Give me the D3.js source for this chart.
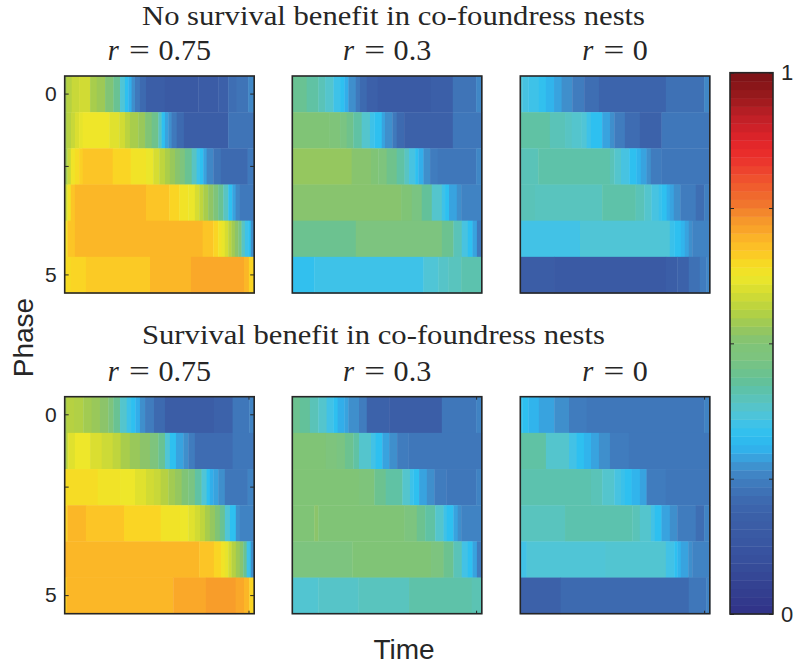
<!DOCTYPE html>
<html>
<head>
<meta charset="utf-8">
<script src="https://cdn.jsdelivr.net/npm/d3@7"></script>
<style>
  body { margin: 0; background: #fff; }
  svg { display: block; }
</style>
</head>
<body>
<svg id="chart" width="795" height="668"></svg>
<script>
// ---- categories and labels ----
const phases = [0, 1, 2, 3, 4, 5];
const phaseTickValues = [0, 2, 5];
const phaseTickLabels = { 0: "0", 5: "5" };
const relatedness = ["0.75", "0.3", "0"];
const groupTitles = ["No survival benefit in co-foundress nests", "Survival benefit in co-foundress nests"];
const colorbarTicks = [0, 0.25, 0.5, 0.75, 1];
const colorbarLabels = { 0: "0", 1: "1" };
const timeDomain = [0, 100];
const timeTickValues = [97];

// ---- values: one list per phase row, each entry = [time where a run starts, fraction] ----
const noBenefitR075 = [
  [[0,0.535],[1,0.56],[3.7,0.58],[7.6,0.59],[13.4,0.547],[16.9,0.535],[21.3,0.50],[25.7,0.44],[29.2,0.37],[31.8,0.33],[33.6,0.30],[35.3,0.27],[37.1,0.24],[39.7,0.21],[42.9,0.17],[52.9,0.15],[70.5,0.16],[81,0.18],[86.3,0.22],[90.7,0.23],[96.8,0.26]],
  [[0,0.535],[1,0.56],[3.3,0.58],[5.4,0.60],[7.6,0.615],[9.5,0.625],[23.6,0.608],[28.8,0.59],[31.8,0.565],[34.4,0.547],[38.8,0.53],[42.4,0.50],[45.9,0.45],[49.4,0.39],[51.1,0.33],[52.9,0.29],[54.7,0.27],[56.4,0.24],[59.1,0.21],[62.9,0.17],[86.3,0.23]],
  [[0,0.535],[1.4,0.58],[3.2,0.63],[5.4,0.645],[7.6,0.66],[9.5,0.67],[25.3,0.655],[34.8,0.632],[42.9,0.62],[46.7,0.595],[49.9,0.57],[52.9,0.55],[55.5,0.53],[58.2,0.51],[60.8,0.48],[63.4,0.44],[67,0.39],[69.6,0.35],[71.4,0.33],[73.1,0.29],[74.9,0.26],[78.4,0.23],[82.4,0.21],[96.5,0.24]],
  [[0,0.58],[1.4,0.632],[3.2,0.67],[5.4,0.69],[42.9,0.67],[55.2,0.655],[60.5,0.632],[65.2,0.62],[68.7,0.595],[71,0.57],[73.1,0.547],[75.7,0.52],[78.4,0.485],[81,0.44],[83.7,0.39],[86.3,0.33],[88.4,0.29],[90.2,0.26],[92.4,0.24]],
  [[0,0.632],[1.4,0.67],[5.4,0.69],[72.8,0.67],[78.4,0.655],[81,0.632],[82.8,0.618],[84.5,0.595],[86.3,0.565],[88,0.54],[89.8,0.515],[91.6,0.47],[93.3,0.39],[95.1,0.35],[96.8,0.33],[98.2,0.27]],
  [[0,0.64],[1,0.648],[3.3,0.655],[11.2,0.665],[45,0.69],[66.6,0.706],[94.6,0.69],[97.2,0.655]]
];
const noBenefitR03 = [
  [[0,0.44],[7.6,0.42],[13.7,0.40],[17.3,0.38],[21.7,0.35],[25.2,0.33],[27.5,0.30],[29.6,0.27],[33.5,0.24],[35.7,0.21],[39.3,0.18],[45.1,0.155],[73.1,0.175],[84.7,0.23],[97,0.26]],
  [[0,0.50],[19.4,0.49],[25.2,0.47],[28.7,0.45],[32.2,0.42],[36.6,0.38],[41,0.35],[43.3,0.33],[47.2,0.29],[48.9,0.27],[52.8,0.24],[55.1,0.21],[59,0.185],[84.7,0.235]],
  [[0,0.525],[31.3,0.51],[41.5,0.50],[45.4,0.48],[49.8,0.45],[55.1,0.42],[59.2,0.39],[61.6,0.36],[64.8,0.33],[66.5,0.30],[69.2,0.27],[72.7,0.245],[76.8,0.235],[97,0.26]],
  [[0,0.51],[57.4,0.50],[63,0.47],[68.3,0.43],[73.6,0.38],[78.9,0.35],[80.6,0.33],[82.7,0.29],[86.8,0.27],[89.1,0.255]],
  [[0,0.445],[33.5,0.475],[78.9,0.445],[85,0.40],[89.4,0.36],[92.6,0.33],[95.1,0.29],[97.4,0.24]],
  [[0,0.335],[11.6,0.35],[69.2,0.37],[77.1,0.385],[82.4,0.395],[89.1,0.41]]
];
const noBenefitR0 = [
  [[0,0.37],[1.1,0.36],[4.2,0.35],[9.8,0.335],[13.5,0.31],[17.8,0.29],[21.8,0.27],[27.4,0.245],[33.7,0.22],[41.5,0.195],[76.8,0.225],[97,0.26]],
  [[0,0.42],[15.6,0.40],[23.6,0.39],[27.1,0.38],[32.3,0.37],[35,0.35],[37.3,0.33],[43.2,0.29],[47.3,0.27],[49.6,0.245],[55.2,0.215],[63.1,0.19],[74.5,0.235]],
  [[0,0.40],[9.5,0.415],[47.3,0.40],[49.6,0.38],[53.1,0.36],[57.5,0.33],[61.3,0.31],[63.6,0.29],[66.6,0.27],[68.9,0.245],[74.5,0.235]],
  [[0,0.40],[7.7,0.395],[43.2,0.415],[60.8,0.40],[65.4,0.38],[69.2,0.36],[73.1,0.345],[74.5,0.33],[77.2,0.30],[78.9,0.29],[81,0.27],[84.5,0.245],[92.6,0.22],[97,0.25]],
  [[0,0.355],[31.5,0.37],[78.9,0.345],[81.2,0.33],[84.7,0.31],[86.8,0.29],[88.9,0.27],[90.7,0.255]],
  [[0,0.165],[17.8,0.15],[76.8,0.17],[82.8,0.19],[88.9,0.225],[94.7,0.245],[98.2,0.26]]
];
const benefitR075 = [
  [[0,0.535],[1,0.56],[4.9,0.555],[9.8,0.54],[14.2,0.53],[18.6,0.515],[23,0.48],[25.7,0.44],[29.2,0.38],[32.7,0.35],[35,0.33],[37.3,0.30],[39.7,0.27],[42.4,0.245],[47.1,0.21],[52.9,0.165],[78.7,0.19],[88.6,0.235],[97.4,0.255]],
  [[0,0.535],[1,0.58],[1.9,0.608],[5.4,0.623],[13.4,0.60],[19.5,0.585],[25.3,0.57],[29.5,0.547],[34.4,0.53],[39.7,0.515],[45,0.48],[49.4,0.44],[52.9,0.37],[55.5,0.33],[58.7,0.29],[62.6,0.27],[65.2,0.245],[68.7,0.215],[88.6,0.235]],
  [[0,0.645],[17.4,0.632],[29.2,0.623],[37.1,0.608],[42.9,0.59],[47.1,0.58],[50.6,0.56],[54.7,0.54],[58.2,0.525],[61.7,0.50],[65.2,0.47],[68.7,0.42],[72.2,0.37],[74.9,0.33],[76.6,0.30],[78.4,0.29],[81,0.27],[84.5,0.235],[96.5,0.255]],
  [[0,0.655],[1.4,0.69],[11.2,0.67],[31.3,0.655],[50.6,0.632],[60.8,0.623],[65.2,0.608],[68.7,0.59],[71.4,0.57],[74,0.547],[76.6,0.525],[79.3,0.50],[81.9,0.44],[84.5,0.37],[87.2,0.33],[90.3,0.27],[92.4,0.255]],
  [[0,0.69],[71,0.67],[78.7,0.655],[82.4,0.632],[84.5,0.615],[86.3,0.59],[88,0.56],[90.3,0.535],[92.4,0.51],[94.2,0.44],[96,0.35],[97.7,0.33],[98.2,0.27]],
  [[0,0.655],[1,0.69],[57.3,0.706],[74.5,0.72],[90.2,0.706],[94.6,0.69],[97.4,0.655]]
];
const benefitR03 = [
  [[0,0.445],[4,0.43],[9.3,0.40],[13.7,0.38],[18.1,0.355],[21.7,0.33],[23.9,0.30],[27.5,0.29],[29.6,0.27],[35.2,0.245],[39.3,0.19],[51.1,0.17],[78.9,0.235],[97,0.255]],
  [[0,0.50],[17.6,0.48],[23.4,0.47],[27.8,0.445],[32.2,0.42],[35.2,0.38],[41.5,0.355],[44,0.33],[47.5,0.29],[51.1,0.27],[55.3,0.245],[61.3,0.235]],
  [[0,0.50],[35.2,0.485],[43.3,0.445],[49.3,0.42],[58.1,0.38],[62.1,0.35],[63.9,0.33],[66.9,0.29],[71,0.27],[75,0.245],[81.2,0.235],[97,0.255]],
  [[0,0.50],[11.6,0.515],[13.7,0.50],[59.2,0.475],[65.7,0.445],[70.1,0.42],[75.4,0.38],[79.8,0.35],[81.5,0.33],[85,0.29],[87.3,0.27],[89.1,0.255]],
  [[0,0.475],[31.7,0.50],[73.2,0.475],[79.8,0.445],[85,0.40],[89.4,0.355],[92.6,0.33],[95.1,0.29],[97.4,0.245]],
  [[0,0.375],[13.7,0.385],[34.9,0.395],[61.6,0.415],[94.7,0.405]]
];
const benefitR0 = [
  [[0,0.345],[1.1,0.33],[4.2,0.31],[9.8,0.29],[17.9,0.27],[25.7,0.245],[35,0.235],[97,0.255]],
  [[0,0.42],[13.5,0.38],[25.7,0.355],[29.7,0.33],[33.6,0.31],[37.3,0.29],[41.5,0.27],[47.3,0.245],[57.3,0.235]],
  [[0,0.41],[37.3,0.40],[43.2,0.38],[49.6,0.36],[53.1,0.345],[55.2,0.33],[58.7,0.31],[63.1,0.29],[66.6,0.245],[76.8,0.235]],
  [[0,0.395],[23.6,0.41],[59.1,0.40],[63.1,0.38],[68.9,0.355],[71,0.33],[74.5,0.29],[78.9,0.27],[82.8,0.245],[92.6,0.22],[97,0.255]],
  [[0,0.355],[3.3,0.37],[45,0.375],[76.8,0.355],[81.2,0.33],[82.8,0.31],[84.7,0.29],[88.6,0.27],[90.7,0.255]],
  [[0,0.185],[21.3,0.21],[88.9,0.235],[98.2,0.255]]
];

// ---- colour map (position, colour) ----
const colormapStops = [
  [0.00,"#313188"],[0.04,"#333e8f"],[0.08,"#364a98"],[0.11,"#38529f"],[0.15,"#3a5aa4"],
  [0.19,"#3c62aa"],[0.22,"#3e6eb3"],[0.25,"#407fc0"],[0.27,"#3f8fcc"],[0.285,"#3b9dd9"],
  [0.30,"#32aeea"],[0.33,"#2ec0f0"],[0.355,"#42c2e6"],[0.37,"#50c5d6"],[0.39,"#58c4c3"],
  [0.41,"#5cc2ae"],[0.43,"#63c19a"],[0.45,"#6fc28c"],[0.475,"#7dc47f"],[0.50,"#80c476"],
  [0.515,"#8cc46a"],[0.53,"#99c85a"],[0.547,"#a8cd4c"],[0.562,"#b8d241"],[0.577,"#c5d73a"],
  [0.593,"#d4dc33"],[0.608,"#e0e12e"],[0.623,"#eee72a"],[0.64,"#f4df25"],[0.655,"#fad524"],
  [0.67,"#fcc526"],[0.682,"#fcbe26"],[0.695,"#fbb328"],[0.706,"#faa829"],[0.719,"#f89e2a"],
  [0.734,"#f5922b"],[0.752,"#f17a2d"],[0.784,"#f0612d"],[0.80,"#ef552e"],[0.83,"#ec3a2e"],
  [0.86,"#e8282a"],[0.89,"#d52229"],[0.922,"#bc1f26"],[0.953,"#9b1a1d"],[1.00,"#7a1216"]
];
const colormapLevels = 64;

const panels = [
  { group: 0, col: 0, rows: noBenefitR075 },
  { group: 0, col: 1, rows: noBenefitR03 },
  { group: 0, col: 2, rows: noBenefitR0 },
  { group: 1, col: 0, rows: benefitR075 },
  { group: 1, col: 1, rows: benefitR03 },
  { group: 1, col: 2, rows: benefitR0 }
];

// ---- layout ----
const panelLeft = [64.7, 292.3, 520.3];
const panelTop = [76, 396.7];
const panelW = 189.5, panelH = 217;
const cb = { x: 730, y: 72.7, w: 43, h: 541.3 };
const titleCenter = [393.5, 373.5];
const titleWidth = [503, 463];
const titleBaseline = [24.5, 344];
const titleSize = 27;
const serifSize = 28.4;
const serif = "'Liberation Serif', 'Times New Roman', serif";
const sans = "'Liberation Sans', Arial, Helvetica, sans-serif";
const ink = "#262626";

const color = d3.scaleLinear()
  .domain(colormapStops.map(d => d[0]))
  .range(colormapStops.map(d => d[1]))
  .interpolate(d3.interpolateRgb)
  .clamp(true);

const svg = d3.select("#chart");

const x = d3.scaleLinear().domain(timeDomain).range([0, panelW]);
const y = d3.scaleBand().domain(phases).range([0, panelH]).paddingInner(0).paddingOuter(0);

// group titles (TeX-like wide roman set to the measured line width)
groupTitles.forEach((t, i) => {
  svg.append("text")
    .attr("x", titleCenter[i] - titleWidth[i] / 2)
    .attr("y", titleBaseline[i])
    .attr("font-family", serif)
    .attr("font-size", titleSize)
    .attr("fill", ink)
    .attr("textLength", titleWidth[i])
    .attr("lengthAdjust", "spacingAndGlyphs")
    .text(t);
});

// "r = value" in math spacing: italic r, thick spaces around "="
function relatednessLabel(g, cx, baseline, value) {
  const em = serifSize;
  const num = g.append("text")
    .attr("font-family", serif).attr("font-size", serifSize).attr("fill", ink)
    .attr("y", baseline).text(value);
  const numW = num.node().getComputedTextLength() * 1.06;
  const rW = 0.451 * em, gap = 0.278 * em, eqW = 0.778 * em;
  const total = rW + gap + eqW + gap + numW;
  const x0 = cx - total / 2;
  g.append("text")
    .attr("font-family", serif).attr("font-size", serifSize).attr("font-style", "italic")
    .attr("fill", ink).attr("x", x0).attr("y", baseline).text("r");
  const eqX = x0 + rW + gap + eqW / 2;
  g.append("text")
    .attr("font-family", serif).attr("font-size", serifSize).attr("fill", ink)
    .attr("text-anchor", "middle")
    .attr("x", eqX).attr("y", baseline)
    .attr("transform", `translate(${eqX},${baseline}) scale(1.3,1) translate(${-eqX},${-baseline})`)
    .text("=");
  num.attr("x", x0 + rW + gap + eqW + gap)
    .attr("textLength", numW).attr("lengthAdjust", "spacingAndGlyphs");
}

panels.forEach(p => {
  const g = svg.append("g")
    .attr("transform", `translate(${panelLeft[p.col]},${panelTop[p.group]})`);

  relatednessLabel(g, panelW / 2, -16, relatedness[p.col]);

  // heat cells
  p.rows.forEach((runs, phase) => {
    const cells = runs.map((r, k) => ({
      t0: r[0],
      t1: k + 1 < runs.length ? runs[k + 1][0] : timeDomain[1],
      v: r[1]
    }));
    g.selectAll(null)
      .data(cells)
      .enter().append("rect")
      .attr("x", d => x(d.t0))
      .attr("width", d => x(d.t1) - x(d.t0) + 0.4)
      .attr("y", y(phases[phase]))
      .attr("height", y.bandwidth() + 0.4)
      .attr("fill", d => color(d.v));
  });

  // phase ticks (first column carries labels)
  const left = d3.axisLeft(y).tickValues(phaseTickValues)
    .tickSizeInner(p.col === 0 ? -4 : 0).tickSizeOuter(0).tickPadding(8)
    .tickFormat(d => (p.col === 0 ? (phaseTickLabels[d] || "") : ""));
  const la = g.append("g").call(left);
  const right = d3.axisRight(y).tickValues(phaseTickValues)
    .tickSizeInner(p.col === 0 ? -4 : 0).tickSizeOuter(0).tickFormat("");
  const ra = g.append("g").attr("transform", `translate(${panelW},0)`).call(right);

  // time ticks
  const xt = p.group === 1 ? timeTickValues : [];
  const ta = g.append("g").attr("transform", `translate(0,${panelH})`)
    .call(d3.axisBottom(x).tickValues(xt).tickSizeInner(-3).tickSizeOuter(0).tickFormat(""));
  const tt = g.append("g")
    .call(d3.axisTop(x).tickValues(xt).tickSizeInner(-3).tickSizeOuter(0).tickFormat(""));

  [la, ra, ta, tt].forEach(a => {
    a.select(".domain").remove();
    a.selectAll("line").attr("stroke", ink).attr("stroke-width", 1);
    a.selectAll("text").attr("font-family", sans).attr("font-size", 21).attr("fill", ink);
  });

  // frame
  g.append("rect")
    .attr("width", panelW).attr("height", panelH)
    .attr("fill", "none").attr("stroke", ink).attr("stroke-width", 1.6);
});

// axis titles
svg.append("text")
  .attr("transform", "translate(33,337.5) rotate(-90)")
  .attr("text-anchor", "middle")
  .attr("font-family", sans).attr("font-size", 28).attr("fill", ink)
  .text("Phase");
svg.append("text")
  .attr("x", 404).attr("y", 659)
  .attr("text-anchor", "middle")
  .attr("font-family", sans).attr("font-size", 28).attr("fill", ink)
  .text("Time");

// colour bar
const cbScale = d3.scaleLinear().domain([0, 1]).range([cb.y + cb.h, cb.y]);
const cbg = svg.append("g");
const levels = d3.range(colormapLevels);
cbg.selectAll("rect.level")
  .data(levels)
  .enter().append("rect")
  .attr("class", "level")
  .attr("x", cb.x)
  .attr("width", cb.w)
  .attr("y", i => cbScale((i + 1) / colormapLevels))
  .attr("height", i => cbScale(i / colormapLevels) - cbScale((i + 1) / colormapLevels) + 0.4)
  .attr("fill", i => color((i + 0.5) / colormapLevels));

const cbRight = cbg.append("g").attr("transform", `translate(${cb.x + cb.w},0)`)
  .call(d3.axisRight(cbScale).tickValues(colorbarTicks).tickSizeInner(-4).tickSizeOuter(0).tickPadding(8)
    .tickFormat(d => colorbarLabels[d] || ""));
const cbLeft = cbg.append("g").attr("transform", `translate(${cb.x},0)`)
  .call(d3.axisLeft(cbScale).tickValues(colorbarTicks).tickSizeInner(-4).tickSizeOuter(0).tickFormat(""));
[cbRight, cbLeft].forEach(a => {
  a.select(".domain").remove();
  a.selectAll("line").attr("stroke", ink).attr("stroke-width", 1);
  a.selectAll("text").attr("font-family", sans).attr("font-size", 22).attr("fill", ink);
});
cbg.append("rect")
  .attr("x", cb.x).attr("y", cb.y).attr("width", cb.w).attr("height", cb.h)
  .attr("fill", "none").attr("stroke", ink).attr("stroke-width", 1.6);
</script>
</body>
</html>
